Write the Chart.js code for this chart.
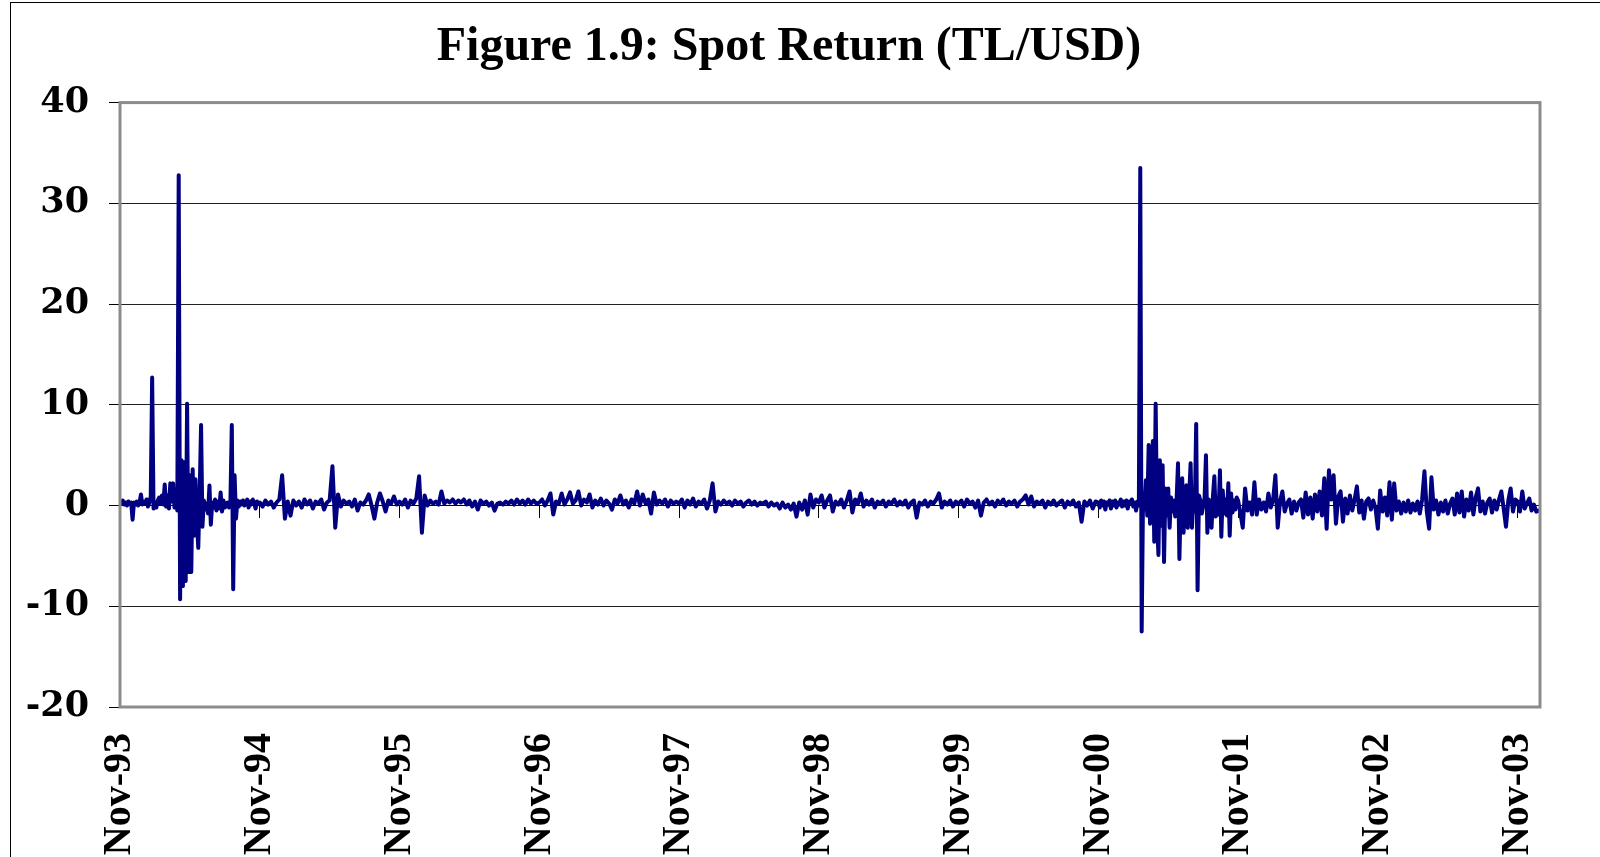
<!DOCTYPE html>
<html>
<head>
<meta charset="utf-8">
<script src="https://cdn.jsdelivr.net/npm/chart.js@4"></script>
<style>
  body { margin: 0; background: #fff; }
  #wrap { width: 1600px; height: 857px; }
</style>
</head>
<body>
<div id="wrap"><canvas id="myChart"></canvas></div>
<script>
// x axis labels, one per year (Nov-93 .. Nov-03)
const tickLabels = ['Nov-93', 'Nov-94', 'Nov-95', 'Nov-96', 'Nov-97', 'Nov-98',
                    'Nov-99', 'Nov-00', 'Nov-01', 'Nov-02', 'Nov-03'];
const yTicks = { min: -20, max: 40, step: 10 };

// daily spot returns, one array per year (Nov to Nov)
const ret9394 = [0.4, 0.2, 0.5, 0.1, 0.3, 0.0, 0.4, 0.2, 0.3, -1.4,
  0.3, 0.1, 0.4, 0.0, 0.3, 1.1, 0.1, 0.4, 0.2, 0.6,
  -0.1, 0.3, 0.9, 12.7, -0.3, 0.3, -0.2, 0.5, 0.8, 0.2,
  1.0, 0.1, 2.1, -0.1, 1.0, -0.3, 2.2, 0.4, 2.2, -0.2,
  0.8, -0.5, 32.8, -9.3, 4.5, -8.0, 4.3, -7.5, 10.1, -6.6,
  3.0, -6.6, 3.6, -3.0, 2.6, -1.5, -4.2, 1.2, 8.0, -2.1,
  0.5, -0.4, 0.2, -0.8, 2.0, -1.9, 0.3, -0.2, 0.6, -0.5,
  0.4, -0.3, 1.3, -0.6, 0.5, -0.2, 0.1, 0.3, -0.2, 0.4,
  8.0, -8.3, 3.0, -1.3, 0.5, -0.1, 0.4, 0.1, 0.5, 0.0,
  0.3, 0.6, -0.2, 0.4, 0.1, 0.6, 0.3, -0.3, 0.4, 0.2];
const ret9495 = [0.3, -0.1, 0.5, 0.1, 0.4, -0.2, 0.3, 0.6, 3.0, -1.3,
  0.4, -1.0, 0.5, 0.0, 0.4, -0.2, 0.6, 0.1, 0.5, -0.3,
  0.4, 0.2, 0.6, -0.4, 0.3, 0.5, 3.9, -2.2, 1.1, -0.1,
  0.5, 0.2, 0.4, -0.1, 0.6, -0.5, 0.3, 0.1, 0.5, 1.1,
  0.0, -1.3, 0.3, 1.2, 0.4, -0.6, 0.5, 0.2, 0.9, 0.1];
const ret9596 = [0.4, 0.1, 0.6, -0.2, 0.5, 0.2, 0.7, 2.9, -2.7, 1.0,
  0.0, 0.5, 0.2, 0.4, 0.1, 1.4, 0.2, 0.5, 0.3, 0.6,
  0.2, 0.5, 0.3, 0.6, 0.1, 0.5, -0.1, 0.4, -0.4, 0.5,
  0.2, 0.4, 0.0, 0.3, -0.5, 0.2, 0.3, 0.1, 0.4, 0.2,
  0.5, 0.1, 0.6, 0.2, 0.5, 0.1, 0.6, 0.2, 0.5, 0.2];
const ret9697 = [0.3, 0.6, 0.0, 0.5, 1.2, -0.9, 0.4, 0.2, 1.2, 0.1,
  0.6, 1.3, 0.2, 0.5, 1.4, 0.0, 0.6, 0.3, 1.1, -0.2,
  0.5, 0.1, 0.7, 0.0, 0.5, 0.2, -0.4, 0.6, 0.2, 1.0,
  0.1, 0.5, -0.2, 0.6, 0.2, 1.4, 0.0, 1.1, 0.2, 0.6,
  -0.8, 1.3, 0.1, 0.5, 0.2, 0.6, -0.1, 0.5, 0.2, 0.4];
const ret9798 = [0.2, 0.6, -0.2, 0.5, 0.1, 0.7, -0.1, 0.4, 0.2, 0.6,
  -0.3, 0.5, 2.2, -0.6, 0.4, 0.1, 0.5, 0.2, 0.4, 0.0,
  0.5, 0.2, 0.4, -0.1, 0.3, 0.5, 0.1, 0.4, 0.0, 0.3,
  0.2, 0.4, -0.1, 0.3, 0.0, 0.2, -0.3, 0.3, -0.2, 0.1,
  -0.4, 0.2, -1.1, 0.3, -0.4, 0.5, -0.9, 1.1, -0.2, 0.6];
const ret9899 = [0.3, 1.0, -0.2, 0.5, 1.0, -0.6, 0.4, 0.1, 0.6, -0.2,
  0.5, 1.4, -0.7, 0.6, 0.2, 1.2, -0.1, 0.5, 0.1, 0.6,
  -0.2, 0.4, 0.2, 0.5, -0.1, 0.4, 0.2, 0.6, 0.0, 0.4,
  0.1, 0.5, -0.2, 0.3, 0.5, -1.2, 0.3, 0.1, 0.5, -0.1,
  0.4, 0.2, 0.6, 1.2, -0.2, 0.4, 0.1, 0.5, -0.1, 0.4];
const ret9900 = [0.2, 0.5, -0.1, 0.6, 0.2, 0.4, -0.2, 0.5, -1.0, 0.3,
  0.6, 0.1, 0.4, -0.1, 0.5, 0.2, 0.6, 0.0, 0.4, 0.2,
  0.5, -0.1, 0.4, 0.6, 1.0, 0.1, 0.9, -0.1, 0.4, 0.2,
  0.5, -0.2, 0.4, 0.1, 0.5, 0.0, 0.3, 0.5, -0.2, 0.4,
  0.1, 0.5, -0.1, 0.3, -1.6, 0.4, 0.0, 0.5, -0.3, 0.4];
const ret0001 = [0.3, -0.2, 0.5, 0.0, 0.4, -0.4, 0.3, 0.1, 0.5, -0.3,
  0.4, 0.0, 0.5, -0.2, 0.3, 0.1, 0.6, -0.1, 0.4, 0.0,
  0.5, -0.3, 0.4, 0.2, 0.6, -0.1, 0.3, -0.5, 0.4, 0.0,
  33.5, -12.5, 1.2, -0.4, 2.5, -1.0, 6.0, -1.8, 2.0, 6.4,
  -3.6, 10.1, -1.5, -4.9, 4.5, -2.0, 4.0, -5.6, 1.7, -1.0,
  1.7, -2.2, 0.8, -0.6, 0.5, -1.1, 0.6, 4.2, -5.3, 0.8,
  2.7, -2.7, 1.0, 2.0, -2.2, 1.0, 4.2, -2.2, 0.8, -0.6,
  8.1, -8.4, 1.0, 0.5, -0.8, 0.0, 0.7, 5.0, -2.7, 0.6,
  -0.5, -2.2, 0.9, 2.9, -1.1, 0.4, -0.9, 3.5, -3.1, 1.5,
  -0.8, 0.6, -1.0, 2.2, -3.0, 1.2, -0.7, 0.5, -0.4, 0.8];
const ret0102 = [0.5, -0.8, -2.2, 1.7, -0.5, 0.3, -0.9, 2.3, -0.9, 0.6,
  -0.4, 0.3, -0.6, 1.2, -0.2, 0.5, 3.0, -2.2, 0.4, 1.4,
  -0.6, 0.2, 0.6, -0.8, 0.4, -0.5, 0.3, 0.6, -1.2, 1.3,
  -0.9, 0.8, -1.3, 1.1, -0.6, 1.4, -1.0, 2.7, -2.3, 3.5,
  0.6, 3.0, -1.8, 0.9, 1.4, -1.6, 0.7, -0.8, 1.0, -0.5,
  0.6, 1.9, -0.7, 0.5, -1.3, 0.4, 0.7, -0.4, 0.5, -0.3];
const ret0203 = [-2.3, 1.5, -0.6, 0.8, -1.0, 2.3, -1.4, 2.2, -0.5, 0.4,
  -0.8, 0.3, -0.6, 0.5, -0.7, 0.2, -0.5, 0.4, -0.8, 0.6,
  3.4, -0.6, -2.3, 2.8, -0.4, 0.5, -0.9, 0.3, -0.6, 0.5,
  -0.8, 0.2, 0.7, -0.9, 1.2, -0.7, 1.4, -1.1, 0.6, -0.5,
  1.3, -0.9, 0.8, 1.7, -0.6, 0.4, -0.8, 0.3, 0.7, -0.7,
  0.5, -0.4, 0.6, 1.4, -0.3, -2.1, 0.5, 1.7, -0.6, 0.6];
const ret0304 = [0.4, -0.6, 1.4, -0.3, 0.2, 0.7, -0.5, 0.1, -0.6, -0.5];

const yearly = [ret9394, ret9495, ret9596, ret9697, ret9798,
                ret9899, ret9900, ret0001, ret0102, ret0203];

// x = years since Nov-93
const points = [];
yearly.forEach(function(arr, k) {
  arr.forEach(function(v, i) { points.push({ x: k + i / arr.length, y: v }); });
});
ret0304.forEach(function(v, i) { points.push({ x: 10 + i / 60, y: v }); });
const xEnd = 10.16;

const serif = 'Liberation Serif, Times New Roman, serif';

// grey frame round the plot and thin border round the chart
const framePlugin = {
  id: 'frame',
  beforeDraw(chart) {
    const ctx = chart.ctx;
    ctx.save();
    ctx.strokeStyle = '#000';
    ctx.lineWidth = 1;
    ctx.strokeRect(10.5, 2.5, chart.width + 20, chart.height + 20);
    ctx.restore();
  },
  afterDatasetsDraw(chart) {
    const ctx = chart.ctx;
    const a = chart.chartArea;
    ctx.save();
    ctx.strokeStyle = '#8c8c8c';
    ctx.lineWidth = 3;
    ctx.strokeRect(a.left, a.top, a.right - a.left, a.bottom - a.top);
    ctx.restore();
  }
};

const ctx = document.getElementById('myChart');
new Chart(ctx, {
  type: 'line',
  data: {
    datasets: [{
      label: 'Spot Return (TL/USD)',
      data: points,
      borderColor: '#000080',
      borderWidth: 4,
      borderJoinStyle: 'round',
      borderCapStyle: 'round',
      pointRadius: 0,
      tension: 0,
      fill: false
    }]
  },
  options: {
    responsive: true,
    maintainAspectRatio: false,
    animation: false,
    layout: { padding: { left: 0, right: 22, top: 0, bottom: 0 } },
    plugins: {
      legend: { display: false },
      tooltip: { enabled: false },
      title: {
        display: true,
        text: 'Figure 1.9: Spot Return (TL/USD)',
        color: '#000',
        font: { family: serif, size: 48, weight: 'bold' },
        padding: { top: 19, bottom: 26 }
      }
    },
    scales: {
      x: {
        type: 'linear',
        min: 0,
        max: xEnd,
        position: 'bottom',
        grid: { display: false, drawTicks: false },
        border: { display: false },
        ticks: {
          stepSize: 1,
          includeBounds: false,
          autoSkip: false,
          maxRotation: 90,
          minRotation: 90,
          padding: 26,
          color: '#000',
          font: { family: serif, size: 40, weight: 'bold' },
          callback: function(v) { return tickLabels[v]; }
        },
        afterFit: function(scale) { scale.height = 150; }
      },
      x2: {
        type: 'linear',
        min: 0,
        max: xEnd,
        position: { y: 0 },
        grid: { drawOnChartArea: false, drawTicks: true, tickLength: 12, color: '#000' },
        border: { display: true, color: '#000', width: 1 },
        ticks: { display: false, stepSize: 1, includeBounds: false }
      },
      y: {
        min: yTicks.min,
        max: yTicks.max,
        grid: { color: '#222', lineWidth: 1, tickLength: 11, tickColor: '#000' },
        border: { display: false },
        ticks: {
          stepSize: yTicks.step,
          padding: 20,
          color: '#000',
          font: { family: 'DejaVu Serif', size: 35, weight: 'bold' }
        },
        afterFit: function(scale) { scale.width = 120; }
      },
      // empty right-hand strip so the title centres like the original
      y2: {
        position: 'right',
        min: yTicks.min,
        max: yTicks.max,
        grid: { display: false, drawOnChartArea: false },
        border: { display: false },
        ticks: { display: false },
        afterFit: function(scale) { scale.width = 38; }
      }
    }
  },
  plugins: [framePlugin]
});
</script>
</body>
</html>
